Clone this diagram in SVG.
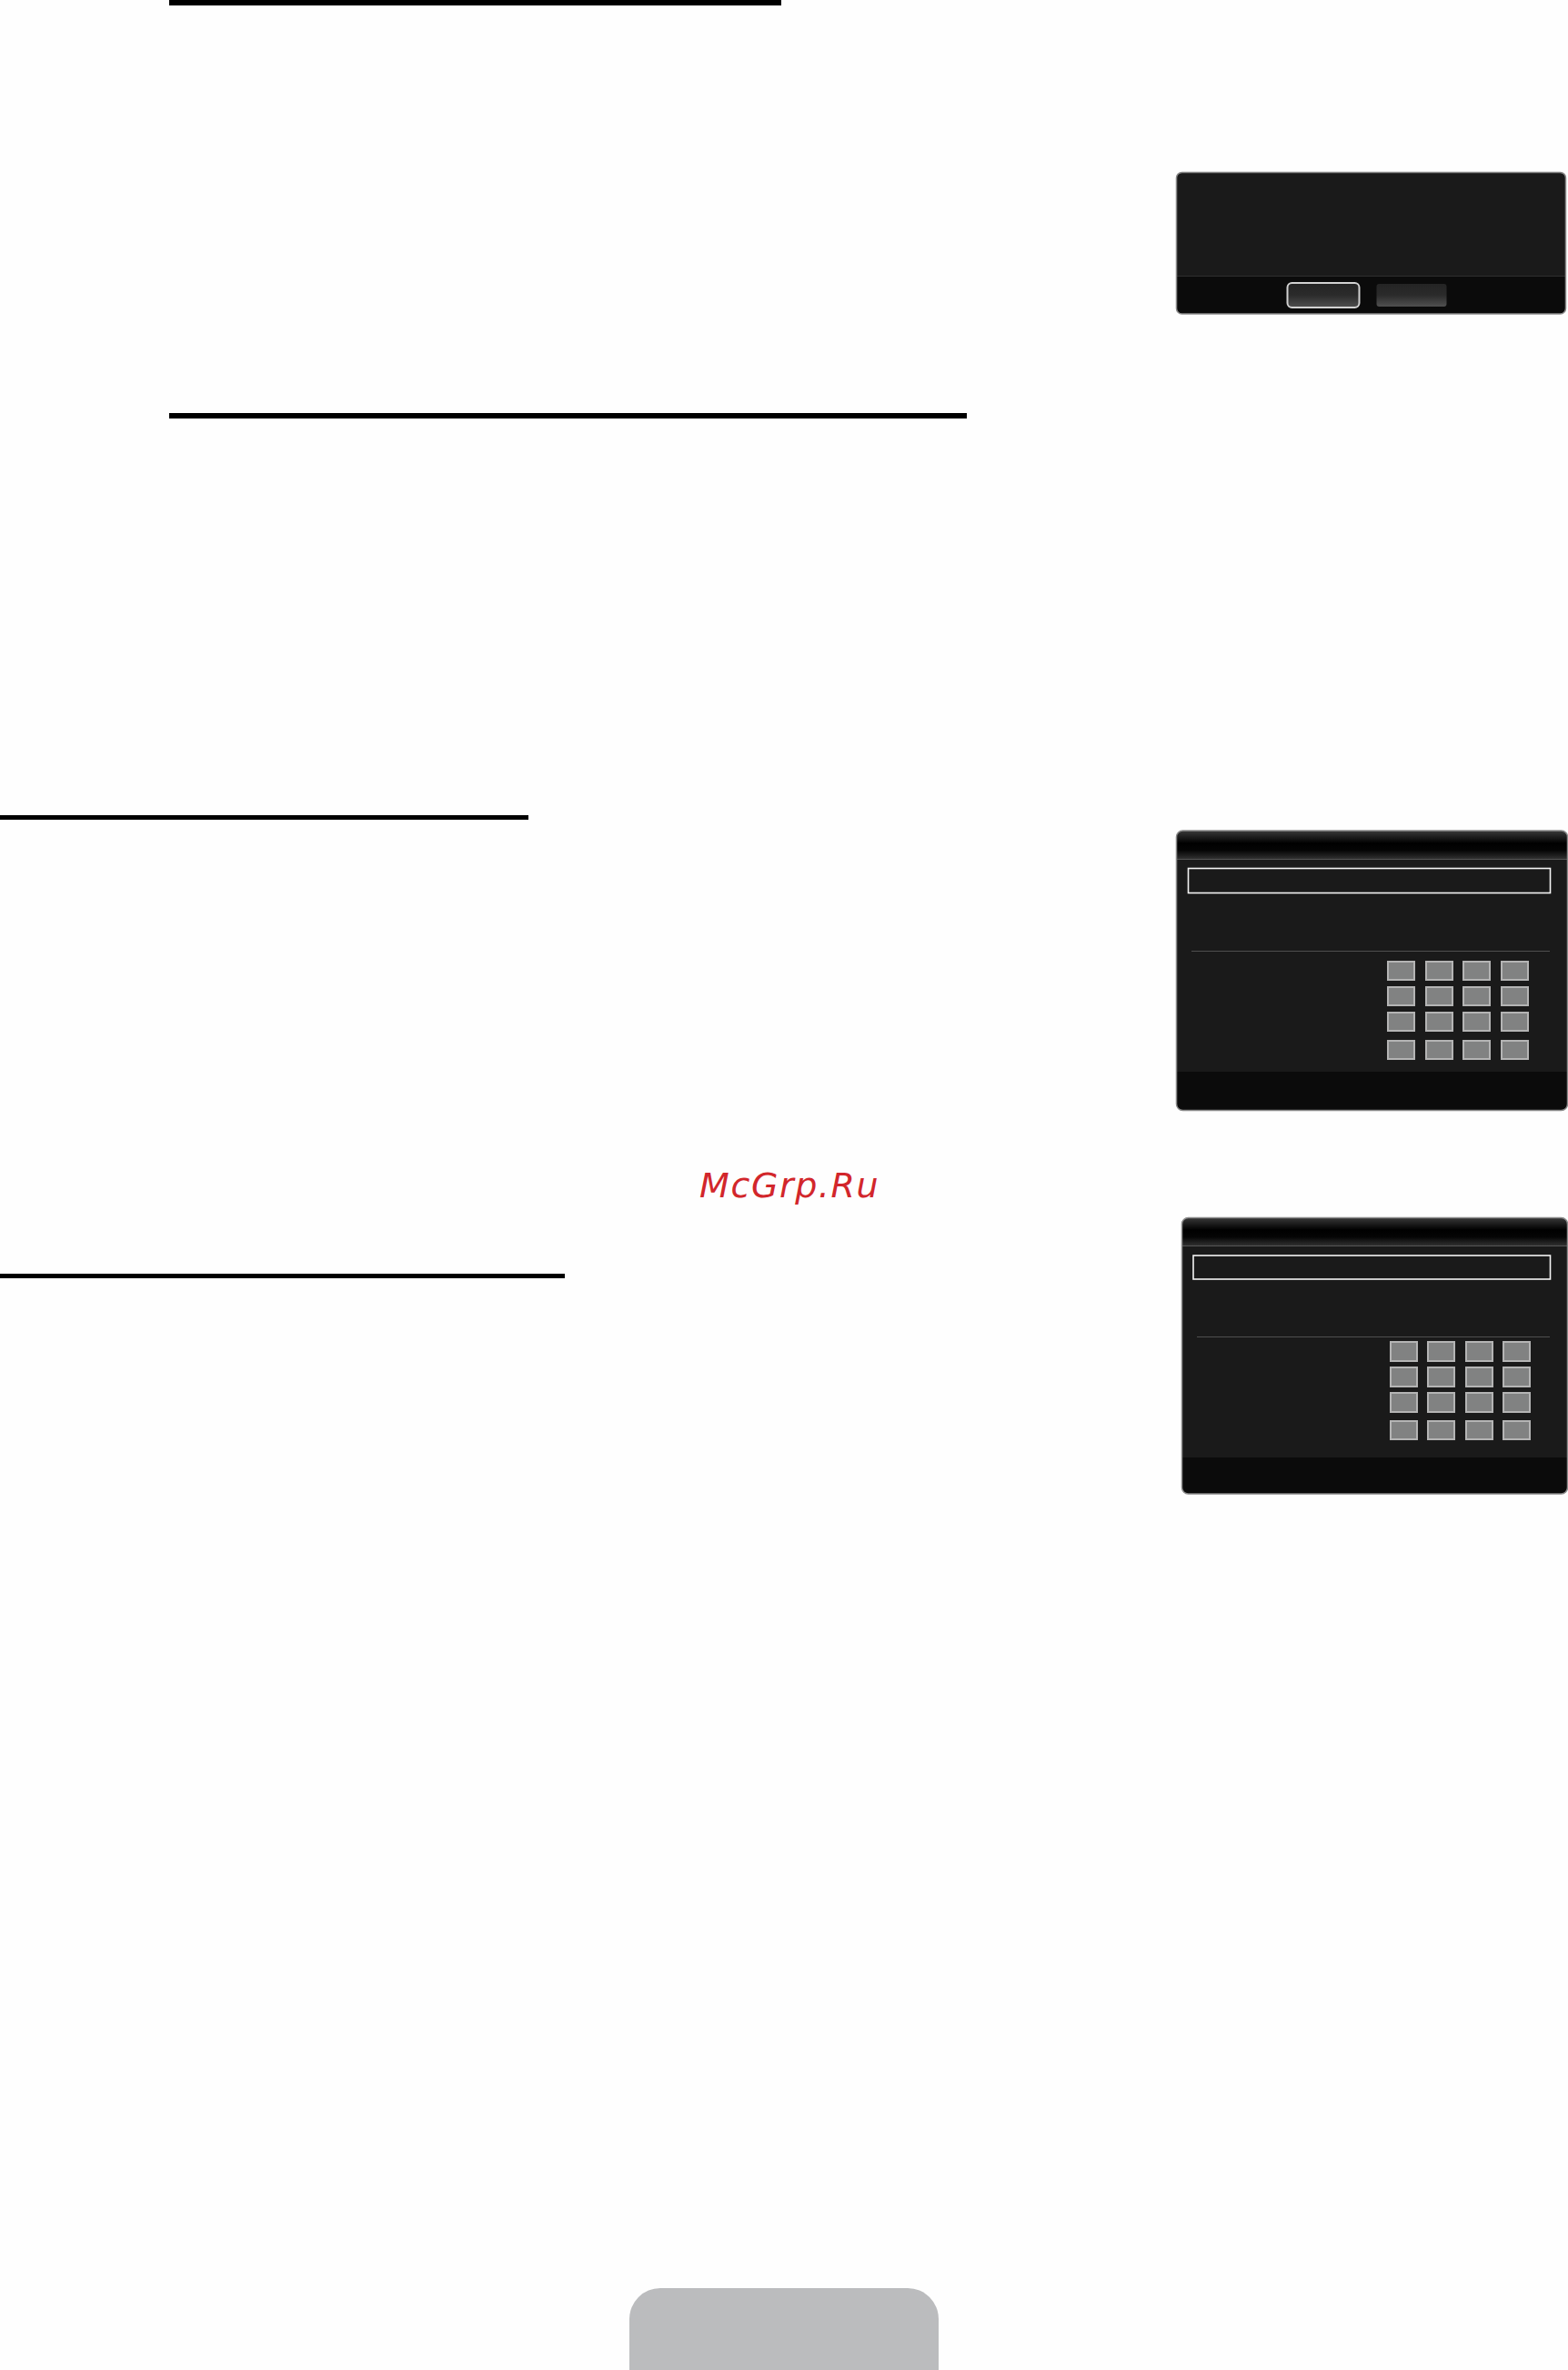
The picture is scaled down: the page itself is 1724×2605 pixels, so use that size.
<svg xmlns="http://www.w3.org/2000/svg" width="1724" height="2605" viewBox="0 0 1724 2605">
<style>
.rule{fill:#000}
.panel{fill:#1a1a1a}
.edge{fill:none;stroke:#8c8c8c;stroke-width:1.5}
.foot{fill:#0b0b0b}
.div{fill:#4f4f4f}
.input{fill:none;stroke:#f4f4f4;stroke-width:1.6}
.key{fill:#818282;stroke:#b4b4b4;stroke-width:2}
.wm{font-family:"DejaVu Sans",sans-serif;font-style:italic;font-size:38px;letter-spacing:1.6px;fill:#d2262b}
</style>
<defs>
<linearGradient id="title" x1="0" y1="0" x2="0" y2="1">
<stop offset="0" stop-color="#3a3a3a"/><stop offset=".45" stop-color="#000"/><stop offset=".7" stop-color="#050505"/><stop offset="1" stop-color="#303030"/>
</linearGradient>
<linearGradient id="btn" x1="0" y1="0" x2="0" y2="1">
<stop offset="0" stop-color="#242424"/><stop offset=".5" stop-color="#2b2b2b"/><stop offset="1" stop-color="#505050"/>
</linearGradient>
<clipPath id="c1"><rect x="1293.5" y="189.5" width="428" height="155.5" rx="6"/></clipPath>
<clipPath id="c2"><rect x="1293.5" y="913" width="430" height="307.5" rx="7"/></clipPath>
<clipPath id="c3"><rect x="1299.5" y="1338.5" width="424" height="303.5" rx="7"/></clipPath>
</defs>
<rect width="1724" height="2605" fill="#fefefe"/>
<g id="rules">
<rect class="rule" x="186" y="0" width="673" height="6"/>
<rect class="rule" x="186" y="454" width="877" height="6"/>
<rect class="rule" x="0" y="896" width="581" height="5"/>
<rect class="rule" x="0" y="1400" width="621" height="5"/>
</g>
<g id="dialog-confirm">
<rect class="panel" x="1293.500" y="189.500" width="428" height="155.500" rx="6"/>
<g clip-path="url(#c1)"><rect class="foot" x="1293" y="304" width="429" height="42"/><rect class="div" x="1293" y="303" width="429" height="1" opacity=".4"/></g>
<rect class="edge" x="1293.500" y="189.500" width="428" height="155.500" rx="6"/>
<rect x="1415.500" y="311" width="79" height="27" rx="5" fill="url(#btn)" stroke="#d2d2d2" stroke-width="2"/>
<rect x="1513.500" y="312" width="77" height="25" rx="3" fill="url(#btn)"/>
</g>
<g id="keypad-dialog-1">
<rect class="panel" x="1293.500" y="913" width="430" height="307.500" rx="7"/>
<g clip-path="url(#c2)"><rect x="1293" y="913" width="431" height="31" fill="url(#title)"/><rect x="1293" y="944" width="431" height="1" fill="#555"/><rect class="foot" x="1293" y="1178" width="431" height="43"/></g>
<rect class="edge" x="1293.500" y="913" width="430" height="307.500" rx="7"/>
<rect class="input" x="1306.500" y="954.500" width="398" height="27"/>
<rect class="div" x="1310" y="1045" width="394" height="1"/>
<g>
<rect class="key" x="1526" y="1057" width="29" height="20"/><rect class="key" x="1568" y="1057" width="29" height="20"/><rect class="key" x="1609" y="1057" width="29" height="20"/><rect class="key" x="1651" y="1057" width="29" height="20"/>
<rect class="key" x="1526" y="1085" width="29" height="20"/><rect class="key" x="1568" y="1085" width="29" height="20"/><rect class="key" x="1609" y="1085" width="29" height="20"/><rect class="key" x="1651" y="1085" width="29" height="20"/>
<rect class="key" x="1526" y="1113" width="29" height="20"/><rect class="key" x="1568" y="1113" width="29" height="20"/><rect class="key" x="1609" y="1113" width="29" height="20"/><rect class="key" x="1651" y="1113" width="29" height="20"/>
<rect class="key" x="1526" y="1144" width="29" height="20"/><rect class="key" x="1568" y="1144" width="29" height="20"/><rect class="key" x="1609" y="1144" width="29" height="20"/><rect class="key" x="1651" y="1144" width="29" height="20"/>
</g>
</g>
<g id="keypad-dialog-2">
<rect class="panel" x="1299.500" y="1338.500" width="424" height="303.500" rx="7"/>
<g clip-path="url(#c3)"><rect x="1299" y="1338" width="425" height="31" fill="url(#title)"/><rect x="1299" y="1369" width="425" height="1" fill="#555"/><rect class="foot" x="1299" y="1602" width="425" height="41"/></g>
<rect class="edge" x="1299.500" y="1338.500" width="424" height="303.500" rx="7"/>
<rect class="input" x="1312" y="1380" width="392.500" height="26" stroke-width="2"/>
<rect class="div" x="1316" y="1469" width="388" height="1"/>
<g>
<rect class="key" x="1529" y="1475" width="29" height="21"/><rect class="key" x="1570" y="1475" width="29" height="21"/><rect class="key" x="1612" y="1475" width="29" height="21"/><rect class="key" x="1653" y="1475" width="29" height="21"/>
<rect class="key" x="1529" y="1503" width="29" height="21"/><rect class="key" x="1570" y="1503" width="29" height="21"/><rect class="key" x="1612" y="1503" width="29" height="21"/><rect class="key" x="1653" y="1503" width="29" height="21"/>
<rect class="key" x="1529" y="1531" width="29" height="21"/><rect class="key" x="1570" y="1531" width="29" height="21"/><rect class="key" x="1612" y="1531" width="29" height="21"/><rect class="key" x="1653" y="1531" width="29" height="21"/>
<rect class="key" x="1529" y="1562" width="29" height="20"/><rect class="key" x="1570" y="1562" width="29" height="20"/><rect class="key" x="1612" y="1562" width="29" height="20"/><rect class="key" x="1653" y="1562" width="29" height="20"/>
</g>
</g>
<text id="watermark" class="wm" x="769" y="1316">McGrp.Ru</text>
<path id="page-tab" d="M692 2605V2549a34 34 0 0 1 34-34H998a34 34 0 0 1 34 34V2605Z" fill="#bbbcbe"/>
</svg>
